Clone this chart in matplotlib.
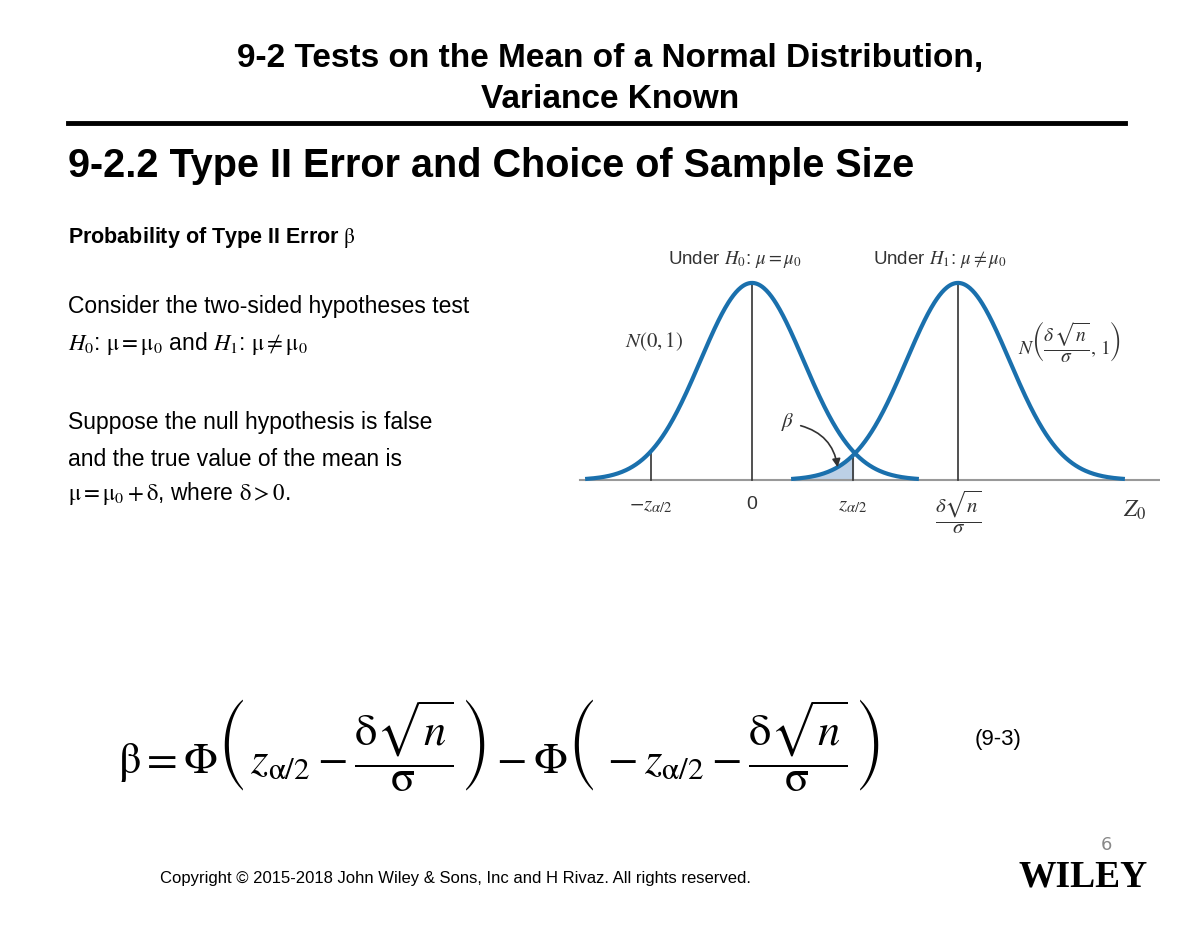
import numpy as np
import matplotlib
matplotlib.use("Agg")
import matplotlib.pyplot as plt
from matplotlib import font_manager as fm
from matplotlib.font_manager import FontProperties
from matplotlib.patches import FancyArrowPatch

plt.rcParams['mathtext.fontset'] = 'stix'
plt.rcParams['font.family'] = ['DejaVu Sans']

def find_font(key):
    for f in fm.fontManager.ttflist:
        if f.fname.replace('\\', '/').split('/')[-1].startswith(key):
            return f.fname
    return None

reg_path = find_font('LiberationSans-Regular')
bold_path = find_font('LiberationSans-Bold.')

def fp(size, bold=False):
    p = bold_path if bold else reg_path
    if p:
        return FontProperties(fname=p, size=size)
    return FontProperties(family='DejaVu Sans', size=size*0.92, weight='bold' if bold else 'normal')

# data
mu0 = 0.0
mu1 = 4.0          # delta*sqrt(n)/sigma
z_half = 1.96
half_width = 3.2
tick_pos = [-z_half, 0.0, z_half, mu1]

W, H = 1200, 927
fig = plt.figure(figsize=(W/100, H/100), dpi=100)

def fx(px): return px / W
def fy(py): return 1 - py / H

# text
fig.text(fx(610), fy(58), "9-2 Tests on the Mean of a Normal Distribution,", ha='center', va='center', fontproperties=fp(24, True))
fig.text(fx(610), fy(100), "Variance Known", ha='center', va='center', fontproperties=fp(24, True))
fig.add_artist(plt.Line2D([fx(68), fx(1125)], [fy(123), fy(123)], color='black', lw=3.5))
fig.text(fx(68), fy(166), "9-2.2 Type II Error and Choice of Sample Size", ha='left', va='center', fontproperties=fp(28.5, True))
fig.text(fx(68), fy(238), r"Probability of Type II Error $\mathrm{\beta}$", ha='left', va='center', fontproperties=fp(15.5, True))
body = 16.5
fig.text(fx(68), fy(306), "Consider the two-sided hypotheses test", ha='left', va='center', fontproperties=fp(body))
fig.text(fx(68), fy(343), r"$H_0$: $\mathrm{\mu = \mu_0}$ and $H_1$: $\mathrm{\mu \neq \mu_0}$", ha='left', va='center', fontproperties=fp(body))
fig.text(fx(68), fy(422), "Suppose the null hypothesis is false", ha='left', va='center', fontproperties=fp(body))
fig.text(fx(68), fy(459), "and the true value of the mean is", ha='left', va='center', fontproperties=fp(body))
fig.text(fx(68), fy(494), r"$\mathrm{\mu = \mu_0 + \delta}$, where $\mathrm{\delta > 0}$.", ha='left', va='center', fontproperties=fp(body))

fig.text(fx(118), fy(745), r"$\mathrm{\beta} = \Phi\left(\,z_{\mathrm{\alpha}/2} - \dfrac{\mathrm{\delta}\sqrt{n}}{\mathrm{\sigma}}\,\right) - \Phi\left(\,-z_{\mathrm{\alpha}/2} - \dfrac{\mathrm{\delta}\sqrt{n}}{\mathrm{\sigma}}\,\right)$",
         ha='left', va='center', fontsize=32)
fig.text(fx(975), fy(740), "(9-3)", ha='left', va='center', fontproperties=fp(16))
fig.text(fx(160), fy(878), "Copyright © 2015-2018 John Wiley & Sons, Inc and H Rivaz. All rights reserved.", ha='left', va='center', fontproperties=fp(12))
fig.text(fx(1106), fy(845), "6", ha='center', va='center', fontsize=13, color='#888888')
fig.text(fx(1083), fy(877), "WILEY", ha='center', va='center', fontsize=27, family='Liberation Serif', fontweight='bold')

# chart axes
ax_l, ax_r, ax_t, ax_b = 570, 1160, 240, 540
ax = fig.add_axes([fx(ax_l), fy(ax_b), (ax_r-ax_l)/W, (ax_b-ax_t)/H])
ppu = 51.5
xmin = (ax_l - 752) / ppu
xmax = (ax_r - 752) / ppu
ypu = 494.0
ax.set_xlim(xmin, xmax)
ax.set_ylim(-(ax_b-480)/ypu, (480-ax_t)/ypu)
ax.axis('off')

def pdf(x, m): return np.exp(-0.5*(x-m)**2)/np.sqrt(2*np.pi)
blue = '#1a70ad'
for m in (mu0, mu1):
    x = np.linspace(m-half_width, m+half_width, 400)
    ax.plot(x, pdf(x, m), color=blue, lw=3, zorder=3)
xs = np.linspace(mu1-half_width, z_half, 100)
ax.fill_between(xs, 0, pdf(xs, mu1), color='#bcd0e6', zorder=1)
ax.plot([(580-752)/ppu, (1165-752)/ppu], [0, 0], color='#999999', lw=1.5, zorder=2)
for t, m in zip(tick_pos, [mu0, mu0, mu1, mu1]):
    ax.plot([t, t], [0, pdf(t, m)], color='#333333', lw=1.2, zorder=2)

ax.text(-z_half, -0.05, r"$-z_{\alpha/2}$", ha='center', va='center', fontsize=15, color='#333333')
ax.text(0, -0.05, "0", ha='center', va='center', fontproperties=fp(14), color='#333333')
ax.text(z_half, -0.05, r"$z_{\alpha/2}$", ha='center', va='center', fontsize=15, color='#333333')
ax.text(mu1, -0.065, r"$\dfrac{\delta\sqrt{n}}{\sigma}$", ha='center', va='center', fontsize=15, color='#333333')
ax.text((1135-752)/ppu, -0.06, r"$Z_0$", ha='center', va='center', fontsize=17, color='#333333')
ax.text((668-752)/ppu, (480-260)/ypu, r"Under $H_0$: $\mu = \mu_0$", ha='left', va='center', fontproperties=fp(13.5), color='#333333')
ax.text((873-752)/ppu, (480-260)/ypu, r"Under $H_1$: $\mu \neq \mu_0$", ha='left', va='center', fontproperties=fp(13.5), color='#333333')
ax.text((625-752)/ppu, (480-342)/ypu, r"$N(0,1)$", ha='left', va='center', fontsize=15, color='#333333')
ax.text((1018-752)/ppu, (480-342)/ypu, r"$N\left(\dfrac{\delta\,\sqrt{n}}{\sigma},\,1\right)$", ha='left', va='center', fontsize=14, color='#333333')
ax.text((788-752)/ppu, (480-422)/ypu, r"$\beta$", ha='center', va='center', fontsize=15, color='#333333')
ax.add_patch(FancyArrowPatch(((798-752)/ppu, (480-425)/ypu), ((838-752)/ppu, (480-470)/ypu),
                             connectionstyle="arc3,rad=-0.35", arrowstyle='-|>', mutation_scale=12, color='#333333', lw=1.2, zorder=4))

fig.savefig("out.png", dpi=100)
